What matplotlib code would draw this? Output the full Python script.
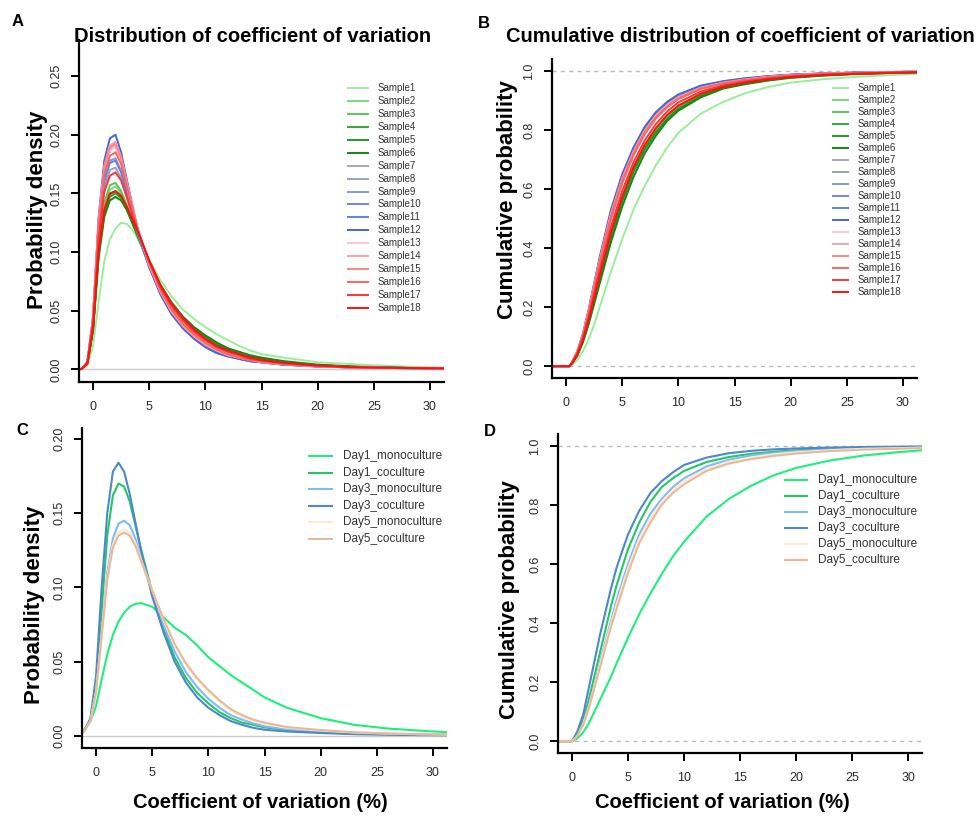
import matplotlib
matplotlib.use("Agg")
import matplotlib.pyplot as plt
from matplotlib.lines import Line2D

plt.rcParams['font.family'] = ['Liberation Sans', 'DejaVu Sans']

W, H = 980, 818

# ---- data ----
samples = ["Sample%d" % i for i in range(1, 19)]
sample_colors = ["#9aee9a", "#77dd77", "#55c855", "#35aa35", "#229a22", "#118811",
                 "#aaaaaa", "#98a0bc", "#8898cc", "#7386dc", "#6480dd", "#4466dd",
                 "#ffc4cc", "#ffa2aa", "#ff8484", "#ff6262", "#ff3434", "#ff1010"]

# panel A: density per sample
xa = [-1.25, -1, -0.5, 0, 0.5, 1, 1.5, 2, 2.5, 3, 3.5, 4, 5, 6, 7, 8, 9, 10,
      11, 12, 13, 14, 15, 17, 20, 23, 26, 29, 31.25]
dens1 = [0, .0003, .003, .02, .058, .092, .111, .120, .125, .124, .119, .111, .093, .076, .062, .051, .043, .036, .030, .025, .020, .016, .013, .010, .006, .0045, .003, .002, .0015]
dens2 = [0, .0005, .005, .035, .10, .138, .153, .156, .150, .139, .126, .113, .089, .068, .053, .042, .033, .026, .020, .016, .013, .010, .008, .006, .0035, .0022, .0015, .001, .0008]
dens3 = [0, .0005, .005, .036, .105, .142, .157, .159, .152, .140, .127, .113, .088, .067, .052, .041, .032, .025, .019, .015, .012, .010, .008, .0055, .0033, .002, .0014, .001, .0008]
dens4 = [0, .0005, .005, .034, .098, .133, .147, .150, .146, .137, .125, .113, .090, .070, .055, .044, .035, .028, .022, .017, .014, .011, .009, .006, .0036, .0022, .0015, .001, .0008]
dens5 = [0, .0005, .005, .034, .099, .135, .149, .152, .147, .137, .125, .113, .090, .069, .054, .043, .034, .027, .021, .017, .014, .011, .009, .006, .0036, .0022, .0015, .001, .0008]
dens6 = [0, .0005, .005, .033, .095, .130, .144, .147, .144, .136, .125, .114, .092, .072, .057, .045, .036, .029, .023, .018, .015, .012, .010, .007, .004, .0025, .0016, .0011, .0008]
dens7 = [0, .0005, .006, .043, .125, .170, .187, .190, .177, .157, .137, .117, .088, .065, .048, .036, .027, .020, .015, .012, .009, .007, .006, .004, .0025, .0016, .0012, .0009, .0007]
dens8 = [0, .0005, .006, .040, .115, .155, .170, .172, .163, .147, .131, .115, .088, .066, .050, .038, .029, .022, .017, .013, .010, .008, .0065, .0045, .0027, .0017, .0012, .0009, .0007]
dens9 = [0, .0005, .006, .042, .120, .162, .178, .180, .169, .151, .133, .116, .087, .065, .049, .037, .027, .020, .015, .012, .009, .007, .006, .004, .0025, .0016, .0012, .0009, .0007]
dens10 = [0, .0005, .006, .044, .127, .173, .190, .193, .180, .159, .138, .118, .088, .064, .047, .035, .026, .019, .014, .011, .009, .007, .006, .004, .0025, .0016, .0012, .0009, .0007]
dens11 = [0, .0005, .006, .041, .118, .160, .176, .178, .168, .150, .132, .116, .087, .065, .049, .037, .027, .020, .015, .012, .009, .007, .006, .004, .0025, .0016, .0012, .0009, .0007]
dens12 = [0, .0005, .006, .045, .130, .178, .197, .200, .185, .162, .140, .118, .088, .064, .047, .035, .026, .019, .014, .011, .009, .007, .006, .004, .0025, .0016, .0012, .0009, .0007]
dens13 = [0, .0005, .006, .043, .124, .169, .186, .190, .178, .158, .138, .119, .090, .067, .050, .038, .029, .022, .017, .013, .010, .008, .0065, .0045, .0027, .0017, .0012, .0009, .0007]
dens14 = [0, .0005, .006, .044, .127, .173, .191, .194, .181, .160, .139, .119, .089, .066, .049, .037, .028, .021, .016, .012, .010, .008, .006, .0043, .0026, .0017, .0012, .0009, .0007]
dens15 = [0, .0005, .006, .044, .126, .172, .189, .192, .180, .159, .139, .119, .090, .067, .050, .038, .029, .022, .017, .013, .010, .008, .0065, .0045, .0027, .0017, .0012, .0009, .0007]
dens16 = [0, .0005, .006, .042, .122, .166, .182, .185, .175, .156, .137, .119, .091, .068, .051, .039, .030, .023, .017, .013, .010, .008, .0065, .0045, .0027, .0017, .0012, .0009, .0007]
dens17 = [0, .0005, .006, .039, .112, .151, .165, .168, .161, .147, .132, .118, .092, .070, .054, .042, .032, .025, .019, .015, .012, .009, .0075, .005, .003, .0018, .0013, .001, .0008]
dens18 = [0, .0005, .005, .035, .101, .136, .150, .152, .148, .139, .128, .117, .093, .072, .056, .044, .034, .026, .020, .016, .013, .010, .008, .0055, .0033, .002, .0014, .001, .0008]

# panel B: cumulative probability per sample
xb = [-1.25, 0, 0.3, 0.5, 1, 1.5, 2, 2.5, 3, 3.5, 4, 5, 6, 7, 8, 9, 10, 12,
      14, 16, 18, 20, 23, 26, 29, 31.25]
cum1 = [0, 0, 0, .004, .02, .05, .09, .14, .2, .26, .32, .43, .53, .61, .68, .74, .79, .855, .895, .925, .945, .96, .972, .98, .986, .99]
cum2 = [0, 0, 0, .008, .04, .09, .155, .23, .305, .38, .45, .57, .67, .745, .80, .845, .878, .92, .945, .96, .971, .979, .986, .99, .993, .995]
cum3 = [0, 0, 0, .008, .042, .093, .16, .235, .31, .385, .455, .575, .675, .75, .805, .85, .882, .923, .947, .962, .972, .98, .987, .991, .994, .996]
cum4 = [0, 0, 0, .007, .037, .085, .148, .22, .295, .368, .437, .557, .657, .733, .79, .836, .87, .914, .942, .958, .969, .978, .985, .99, .993, .995]
cum5 = [0, 0, 0, .007, .038, .086, .15, .223, .298, .37, .44, .56, .66, .736, .793, .838, .872, .915, .943, .959, .97, .978, .985, .99, .993, .995]
cum6 = [0, 0, 0, .007, .035, .08, .14, .21, .28, .35, .42, .54, .64, .72, .78, .83, .865, .91, .94, .955, .967, .976, .984, .99, .993, .995]
cum7 = [0, 0, 0, .01, .048, .105, .182, .27, .357, .435, .515, .635, .728, .798, .85, .887, .913, .945, .962, .973, .981, .986, .991, .994, .996, .997]
cum8 = [0, 0, 0, .009, .045, .1, .173, .258, .343, .42, .497, .618, .713, .785, .838, .877, .905, .94, .958, .97, .979, .985, .99, .993, .995, .997]
cum9 = [0, 0, 0, .01, .047, .103, .178, .265, .352, .43, .508, .628, .722, .793, .846, .883, .91, .943, .961, .972, .98, .986, .991, .994, .996, .997]
cum10 = [0, 0, 0, .01, .049, .108, .186, .275, .364, .444, .524, .645, .737, .806, .857, .892, .918, .948, .964, .974, .982, .987, .991, .994, .996, .997]
cum11 = [0, 0, 0, .01, .047, .102, .177, .263, .35, .428, .506, .626, .72, .792, .845, .882, .909, .942, .96, .972, .98, .986, .991, .994, .996, .997]
cum12 = [0, 0, 0, .01, .05, .11, .19, .28, .37, .45, .53, .65, .74, .81, .86, .895, .92, .95, .965, .975, .982, .987, .991, .994, .996, .997]
cum13 = [0, 0, 0, .01, .047, .104, .18, .267, .353, .43, .507, .626, .718, .789, .841, .878, .906, .94, .958, .97, .979, .985, .99, .993, .995, .997]
cum14 = [0, 0, 0, .01, .049, .107, .184, .272, .36, .438, .516, .635, .727, .797, .849, .885, .911, .943, .96, .971, .98, .985, .99, .993, .995, .997]
cum15 = [0, 0, 0, .01, .048, .106, .182, .27, .357, .435, .512, .631, .723, .793, .845, .881, .908, .941, .959, .97, .979, .985, .99, .993, .995, .997]
cum16 = [0, 0, 0, .01, .047, .103, .178, .264, .35, .427, .504, .623, .716, .787, .84, .877, .905, .939, .957, .969, .978, .984, .99, .993, .995, .996]
cum17 = [0, 0, 0, .009, .043, .095, .165, .245, .325, .4, .473, .593, .69, .764, .82, .862, .893, .93, .951, .964, .974, .981, .987, .991, .994, .996]
cum18 = [0, 0, 0, .008, .039, .088, .154, .23, .306, .38, .452, .572, .672, .748, .806, .85, .882, .922, .946, .961, .971, .979, .986, .99, .993, .995]

# panels C/D: groups
groups = ["Day1_monoculture", "Day1_coculture", "Day3_monoculture",
          "Day3_coculture", "Day5_monoculture", "Day5_coculture"]
group_colors = ["#1cf07a", "#22c864", "#7cbcf8", "#4d88cc", "#fde9d4", "#eab894"]

xc = xa
gdens1 = [.003, .005, .01, .02, .038, .055, .068, .077, .083, .087, .089, .0895, .087, .080, .073, .068, .061, .053, .047, .041, .036, .031, .026, .019, .012, .0075, .005, .0035, .0025]
gdens2 = [.002, .004, .011, .035, .085, .135, .162, .170, .168, .158, .142, .126, .097, .073, .053, .039, .029, .022, .016, .012, .009, .0075, .0058, .004, .0028, .0018, .0012, .0009, .0007]
gdens3 = [.002, .004, .01, .03, .07, .11, .133, .143, .145, .142, .133, .120, .097, .075, .057, .043, .033, .025, .019, .014, .011, .0085, .0065, .0045, .003, .002, .0014, .001, .0008]
gdens4 = [.002, .004, .012, .04, .10, .15, .178, .184, .178, .163, .144, .125, .094, .070, .050, .036, .026, .019, .014, .010, .0075, .0055, .0042, .003, .002, .0012, .0008, .0006, .0005]
gdens5 = [.002, .004, .01, .03, .068, .107, .129, .137, .139, .137, .130, .119, .098, .078, .061, .048, .038, .030, .023, .017, .013, .010, .008, .0055, .0037, .0023, .0016, .0011, .0009]
gdens6 = [.002, .004, .01, .03, .067, .105, .127, .135, .137, .135, .128, .118, .098, .079, .062, .049, .039, .031, .024, .018, .014, .011, .009, .006, .004, .0025, .0017, .0012, .001]

xd = xb
gcum1 = [0, 0, .005, .01, .03, .06, .10, .14, .18, .22, .265, .35, .43, .50, .565, .625, .675, .76, .82, .865, .9, .925, .95, .967, .978, .985]
gcum2 = [0, 0, .012, .025, .07, .14, .22, .30, .38, .46, .53, .65, .74, .81, .86, .89, .915, .945, .962, .973, .98, .985, .99, .993, .995, .996]
gcum3 = [0, 0, .01, .02, .06, .12, .19, .27, .34, .41, .48, .60, .70, .77, .82, .86, .89, .93, .953, .967, .976, .982, .988, .992, .995, .996]
gcum4 = [0, 0, .02, .035, .09, .18, .27, .36, .44, .52, .59, .70, .78, .84, .88, .91, .935, .96, .975, .983, .988, .991, .994, .996, .997, .998]
gcum5 = [0, 0, .01, .02, .057, .115, .185, .26, .33, .40, .465, .585, .685, .755, .81, .85, .88, .922, .946, .961, .971, .978, .985, .99, .992, .994]
gcum6 = [0, 0, .01, .02, .055, .11, .18, .25, .32, .39, .45, .57, .67, .74, .80, .84, .87, .915, .94, .955, .966, .974, .982, .987, .99, .992]

dens_all = [dens1, dens2, dens3, dens4, dens5, dens6, dens7, dens8, dens9,
            dens10, dens11, dens12, dens13, dens14, dens15, dens16, dens17, dens18]
cum_all = [cum1, cum2, cum3, cum4, cum5, cum6, cum7, cum8, cum9,
           cum10, cum11, cum12, cum13, cum14, cum15, cum16, cum17, cum18]
gdens_all = [gdens1, gdens2, gdens3, gdens4, gdens5, gdens6]
gcum_all = [gcum1, gcum2, gcum3, gcum4, gcum5, gcum6]

fig = plt.figure(figsize=(W / 100, H / 100), dpi=100)


def fx(x):
    return x / W


def fy(y):
    return 1 - y / H


def make_ax(l, t, r, b, ylim, yticks, yfmt):
    ax = fig.add_axes([fx(l), fy(b), (r - l) / W, (b - t) / H])
    ax.set_xlim(-1.25, 31.25)
    ax.set_ylim(*ylim)
    for s in ["top", "right"]:
        ax.spines[s].set_visible(False)
    for s in ["left", "bottom"]:
        ax.spines[s].set_linewidth(1.6)
    ax.set_xticks([0, 5, 10, 15, 20, 25, 30])
    ax.set_yticks(yticks)
    ax.set_yticklabels([yfmt % v for v in yticks], rotation=90, va="center")
    ax.tick_params(direction="out", length=6, width=1.4, labelsize=9,
                   labelcolor="#2b2b2b")
    ax.tick_params(axis="x", pad=8)
    ax.tick_params(axis="y", pad=6)
    return ax


def legend(labels, colors, x0, x1, xt, y0, dy, size, lw):
    for i, (lab, c) in enumerate(zip(labels, colors)):
        y = y0 + i * dy
        fig.add_artist(Line2D([fx(x0), fx(x1)], [fy(y), fy(y)], color=c, lw=lw))
        fig.text(fx(xt), fy(y), lab, fontsize=size, color="#333333", va="center")


# --- A ---
axA = make_ax(79, 40, 444, 382, (-0.0108, 0.2808),
              [0, 0.05, 0.10, 0.15, 0.20, 0.25], "%.2f")
axA.axhline(0, color="#cccccc", lw=1, zorder=0)
for d, c in zip(dens_all, sample_colors):
    axA.plot(xa, d, color=c, lw=1.4)
legend(samples, sample_colors, 348, 368, 378, 88, 12.94, 7, 1.4)

# --- B ---
axB = make_ax(552, 59, 917, 378, (-0.04, 1.04),
              [0, 0.2, 0.4, 0.6, 0.8, 1.0], "%.1f")
axB.axhline(0, color="#bbbbbb", lw=1, ls=(0, (3, 3)), zorder=0)
axB.axhline(1, color="#bbbbbb", lw=1, ls=(0, (3, 3)), zorder=0)
for cm, c in zip(cum_all, sample_colors):
    axB.plot(xb, cm, color=c, lw=1.4)
legend(samples, sample_colors, 833, 848, 858, 88, 12.0, 7, 1.4)

# --- C ---
axC = make_ax(82, 428, 447, 748, (-0.0081, 0.2074),
              [0, 0.05, 0.10, 0.15, 0.20], "%.2f")
axC.axhline(0, color="#cccccc", lw=1, zorder=0)
for d, c in zip(gdens_all, group_colors):
    axC.plot(xc, d, color=c, lw=1.5)
legend(groups, group_colors, 309, 332, 343, 456, 16.6, 8.5, 1.5)

# --- D ---
axD = make_ax(558, 434, 922, 753, (-0.04, 1.04),
              [0, 0.2, 0.4, 0.6, 0.8, 1.0], "%.1f")
axD.axhline(0, color="#bbbbbb", lw=1, ls=(0, (3, 3)), zorder=0)
axD.axhline(1, color="#bbbbbb", lw=1, ls=(0, (3, 3)), zorder=0)
for cm, c in zip(gcum_all, group_colors):
    axD.plot(xd, cm, color=c, lw=1.5)
legend(groups, group_colors, 785, 807, 818, 480, 16.0, 8.5, 1.5)

# --- texts ---
bold = dict(fontweight="bold", color="black")
fig.text(fx(253), fy(36), "Distribution of coefficient of variation",
         fontsize=14.5, ha="center", va="center", **bold)
fig.text(fx(740), fy(37), "Cumulative distribution of coefficient of variation",
         fontsize=14.5, ha="center", va="center", **bold)
fig.text(fx(37), fy(210), "Probability density", fontsize=16, rotation=90,
         ha="center", va="center", **bold)
fig.text(fx(507), fy(200), "Cumulative probability", fontsize=16, rotation=90,
         ha="center", va="center", **bold)
fig.text(fx(35), fy(605), "Probability density", fontsize=16, rotation=90,
         ha="center", va="center", **bold)
fig.text(fx(510), fy(600), "Cumulative probability", fontsize=16, rotation=90,
         ha="center", va="center", **bold)
fig.text(fx(260), fy(803), "Coefficient of variation (%)", fontsize=14.5,
         ha="center", va="center", **bold)
fig.text(fx(722), fy(803), "Coefficient of variation (%)", fontsize=14.5,
         ha="center", va="center", **bold)
for lab, x, y in [("A", 18, 21), ("B", 484, 24), ("C", 22, 430), ("D", 490, 432)]:
    fig.text(fx(x), fy(y), lab, fontsize=12, ha="center", va="center", **bold)

fig.savefig("out.png", dpi=100)
